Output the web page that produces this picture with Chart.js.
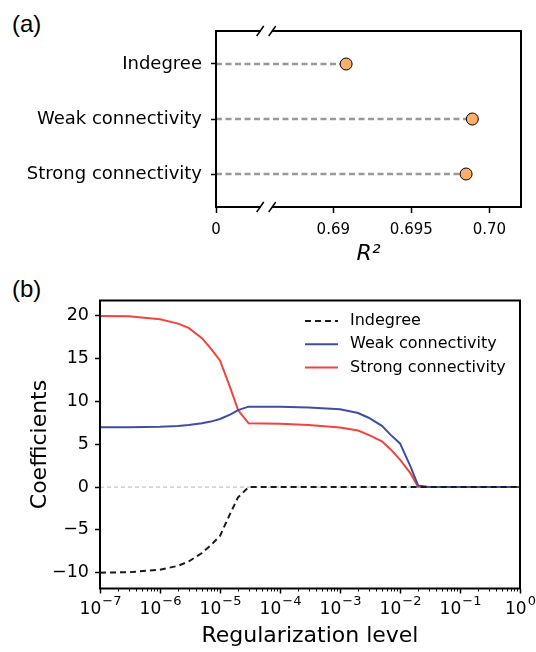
<!DOCTYPE html>
<html>
<head>
<meta charset="utf-8">
<script src="https://cdn.jsdelivr.net/npm/chart.js@4.4.0/dist/chart.umd.min.js"></script>
<style>
  html, body { margin: 0; padding: 0; background: #fff; }
  body { width: 536px; height: 652px; position: relative; overflow: hidden; }
  canvas { position: absolute; left: 0; }
  #chartA { top: 0; }
  #chartB { top: 270px; }
  .tag { position: absolute; font-family: 'Liberation Sans', Arial, sans-serif; font-size: 24px; color: #000; line-height: 28px; }
</style>
</head>
<body>
<div class="tag" style="left:12px; top:10px;">(a)</div>
<div class="tag" style="left:12px; top:275px;">(b)</div>
<canvas id="chartA" width="536" height="268"></canvas>
<canvas id="chartB" width="536" height="382"></canvas>
<script>
// panel (a): R^2 per measure
const measures = ['Indegree', 'Weak connectivity', 'Strong connectivity'];
const r2Values = [0.69082, 0.69891, 0.69851];
const r2TickValues = [0.69, 0.695, 0.70];
const r2TickLabels = ['0.69', '0.695', '0.70'];
const r2AxisStart = 0.68248;   // left end of the broken axis, shown as 0
const r2AxisEnd = 0.70203;
const r2BreakAt = 0.6857;

// panel (b): coefficients against regularization level
const regLevels = [1e-7, 3e-7, 1e-6, 2e-6, 3e-6, 5e-6, 7e-6, 1e-5, 1.5e-5, 2e-5, 3e-5,
                   1e-4, 3e-4, 1e-3, 2e-3, 3e-3, 5e-3, 7e-3, 1e-2, 1.5e-2, 2e-2, 3e-2, 1e-1, 1];
const indegreeCoef = [-10.0, -9.95, -9.65, -9.2, -8.7, -7.7, -6.8, -5.7, -3.0, -1.2, 0,
                      0, 0, 0, 0, 0, 0, 0, 0, 0, 0, 0, 0, 0];
const weakCoef = [7.0, 7.0, 7.05, 7.15, 7.25, 7.45, 7.65, 7.95, 8.5, 9.0, 9.4,
                  9.38, 9.3, 9.1, 8.65, 8.1, 7.15, 6.1, 5.1, 2.4, 0.2, 0, 0, 0];
const strongCoef = [20.0, 19.95, 19.6, 19.1, 18.6, 17.4, 16.2, 14.8, 11.5, 9.0, 7.45,
                    7.4, 7.25, 6.95, 6.6, 6.1, 5.35, 4.4, 3.2, 1.6, 0.05, 0, 0, 0];
const coefTicks = [-10, -5, 0, 5, 10, 15, 20];
const decadeExponents = [-7, -6, -5, -4, -3, -2, -1, 0];

const FONT = "'DejaVu Sans', sans-serif";

function pairs(ys) {
    return regLevels.map((x, i) => ({x: x, y: ys[i]}));
}

// frame with the // break marks on panel (a)
const frameA = {
    id: 'frameA',
    afterDatasetsDraw(chart) {
        const {ctx, chartArea: a} = chart;
        const bx = chart.scales.x.getPixelForValue(r2BreakAt);
        const g = 6;
        ctx.save();
        ctx.strokeStyle = '#000';
        ctx.lineWidth = 2;
        ctx.beginPath();
        ctx.moveTo(bx - g, a.top); ctx.lineTo(a.left, a.top); ctx.lineTo(a.left, a.bottom); ctx.lineTo(bx - g, a.bottom);
        ctx.moveTo(bx + g, a.top); ctx.lineTo(a.right, a.top); ctx.lineTo(a.right, a.bottom); ctx.lineTo(bx + g, a.bottom);
        ctx.stroke();
        ctx.lineWidth = 1.5;
        [a.top, a.bottom].forEach(y => {
            [bx - g, bx + g].forEach(x => {
                ctx.beginPath();
                ctx.moveTo(x - 3.5, y + 5);
                ctx.lineTo(x + 3.5, y - 5);
                ctx.stroke();
            });
        });
        ctx.restore();
    }
};

const lineSets = measures.map((m, i) => ({
    data: [{x: r2AxisStart, y: i}, {x: r2Values[i], y: i}],
    showLine: true,
    borderColor: '#999999',
    borderDash: [6, 3.5],
    borderWidth: 2.5,
    pointRadius: 0,
    order: 2
}));

new Chart(document.getElementById('chartA').getContext('2d'), {
    type: 'scatter',
    data: {
        datasets: [{
            data: measures.map((m, i) => ({x: r2Values[i], y: i})),
            pointRadius: 6,
            backgroundColor: '#fdae6b',
            borderColor: '#000',
            borderWidth: 1,
            order: 1
        }].concat(lineSets)
    },
    options: {
        responsive: false,
        animation: false,
        layout: {padding: {top: 31, right: 15, left: 0, bottom: 0}},
        plugins: {legend: {display: false}, tooltip: {enabled: false}},
        scales: {
            x: {
                type: 'linear',
                min: r2AxisStart,
                max: r2AxisEnd,
                afterBuildTicks: s => { s.ticks = [r2AxisStart].concat(r2TickValues).map(v => ({value: v})); },
                afterFit: s => { s.height = 61; s.paddingLeft = 0; s.paddingRight = 0; },
                border: {display: false},
                grid: {drawOnChartArea: false, tickLength: 6, tickWidth: 1.5, tickColor: '#000'},
                ticks: {
                    autoSkip: false, maxRotation: 0, padding: 8, color: '#000',
                    font: {family: FONT, size: 15},
                    callback: (v, i) => i === 0 ? '0' : r2TickLabels[i - 1]
                },
                title: {display: true, text: 'R²', color: '#000', padding: {top: 0, bottom: 1},
                        font: {family: FONT, size: 22, style: 'italic'}}
            },
            y: {
                type: 'linear',
                min: -0.6,
                max: 2.6,
                reverse: true,
                afterBuildTicks: s => { s.ticks = measures.map((m, i) => ({value: i})); },
                afterFit: s => { s.width = 216; },
                border: {display: false},
                grid: {drawOnChartArea: false, tickLength: 5, tickWidth: 1.5, tickColor: '#000'},
                ticks: {
                    autoSkip: false, padding: 9, color: '#000',
                    font: {family: FONT, size: 18},
                    callback: v => measures[v]
                }
            }
        }
    },
    plugins: [frameA]
});

// panel (b) helpers: zero line, frame, minor ticks, 10^n labels, legend
const extrasB = {
    id: 'extrasB',
    beforeDatasetsDraw(chart) {
        const {ctx, chartArea: a} = chart;
        const y0 = chart.scales.y.getPixelForValue(0);
        ctx.save();
        ctx.strokeStyle = '#b5b5b5';
        ctx.lineWidth = 1;
        ctx.setLineDash([4, 3]);
        ctx.beginPath();
        ctx.moveTo(a.left, y0);
        ctx.lineTo(a.right, y0);
        ctx.stroke();
        ctx.restore();
    },
    afterDatasetsDraw(chart) {
        const {ctx, chartArea: a} = chart;
        const xs = chart.scales.x;
        ctx.save();
        ctx.strokeStyle = '#000';
        ctx.lineWidth = 2;
        ctx.strokeRect(a.left, a.top, a.right - a.left, a.bottom - a.top);

        // minor ticks of the log axis
        ctx.lineWidth = 1;
        for (let d = -7; d < 0; d++) {
            for (let k = 2; k <= 9; k++) {
                const px = Math.round(xs.getPixelForValue(k * Math.pow(10, d))) + 0.5;
                ctx.beginPath();
                ctx.moveTo(px, a.bottom);
                ctx.lineTo(px, a.bottom + 3);
                ctx.stroke();
            }
        }

        // decade labels as 10 with a raised exponent
        ctx.fillStyle = '#000';
        ctx.textBaseline = 'alphabetic';
        ctx.textAlign = 'left';
        xs.ticks.forEach(t => {
            const px = xs.getPixelForValue(t.value);
            const e = Math.round(Math.log10(t.value));
            const expText = e < 0 ? '−' + Math.abs(e) : String(e);
            ctx.font = '17px ' + FONT;
            const w1 = ctx.measureText('10').width;
            ctx.font = '13px ' + FONT;
            const w2 = ctx.measureText(expText).width;
            const x0 = px - (w1 + w2) / 2;
            ctx.font = '17px ' + FONT;
            ctx.fillText('10', x0, a.bottom + 25);
            ctx.font = '13px ' + FONT;
            ctx.fillText(expText, x0 + w1 + 1, a.bottom + 16);
        });

        // legend inside the plot
        ctx.font = '16px ' + FONT;
        ctx.textBaseline = 'middle';
        chart.data.datasets.forEach((ds, i) => {
            const y = a.top + 20.5 + i * 23.3;
            const x = a.left + 205;
            ctx.strokeStyle = ds.borderColor;
            ctx.lineWidth = 2;
            ctx.setLineDash(ds.borderDash || []);
            ctx.beginPath();
            ctx.moveTo(x, y);
            ctx.lineTo(x + 33, y);
            ctx.stroke();
            ctx.setLineDash([]);
            ctx.fillText(ds.label, x + 45, y);
        });
        ctx.restore();
    }
};

new Chart(document.getElementById('chartB').getContext('2d'), {
    type: 'line',
    data: {
        datasets: [
            {label: 'Indegree', data: pairs(indegreeCoef), borderColor: '#1a1a1a', borderDash: [6, 4], borderWidth: 2, pointRadius: 0},
            {label: 'Weak connectivity', data: pairs(weakCoef), borderColor: '#3d4fa3', borderWidth: 2, pointRadius: 0},
            {label: 'Strong connectivity', data: pairs(strongCoef), borderColor: '#f2443c', borderWidth: 2, pointRadius: 0}
        ]
    },
    options: {
        responsive: false,
        animation: false,
        layout: {padding: {top: 30.5, right: 16, left: 0, bottom: 0}},
        plugins: {legend: {display: false}, tooltip: {enabled: false}},
        scales: {
            x: {
                type: 'logarithmic',
                min: 1e-7,
                max: 1,
                afterBuildTicks: s => { s.ticks = decadeExponents.map(e => ({value: Math.pow(10, e)})); },
                afterFit: s => { s.height = 63.5; s.paddingLeft = 0; s.paddingRight = 0; },
                border: {display: false},
                grid: {drawOnChartArea: false, tickLength: 5, tickWidth: 1.5, tickColor: '#000'},
                ticks: {display: false},
                title: {display: true, text: 'Regularization level', color: '#000', padding: {top: 0, bottom: 3},
                        font: {family: FONT, size: 22}}
            },
            y: {
                type: 'linear',
                min: -11.85,
                max: 21.8,
                afterBuildTicks: s => { s.ticks = coefTicks.map(v => ({value: v})); },
                afterFit: s => { s.width = 100; },
                border: {display: false},
                grid: {drawOnChartArea: false, tickLength: 5, tickWidth: 1.5, tickColor: '#000'},
                ticks: {
                    autoSkip: false, padding: 6, color: '#000',
                    font: {family: FONT, size: 17.5},
                    callback: v => v < 0 ? '−' + Math.abs(v) : String(v)
                },
                title: {display: true, text: 'Coefficients', color: '#000', padding: {top: 27, bottom: 0},
                        font: {family: FONT, size: 22}}
            }
        }
    },
    plugins: [extrasB]
});
</script>
</body>
</html>
